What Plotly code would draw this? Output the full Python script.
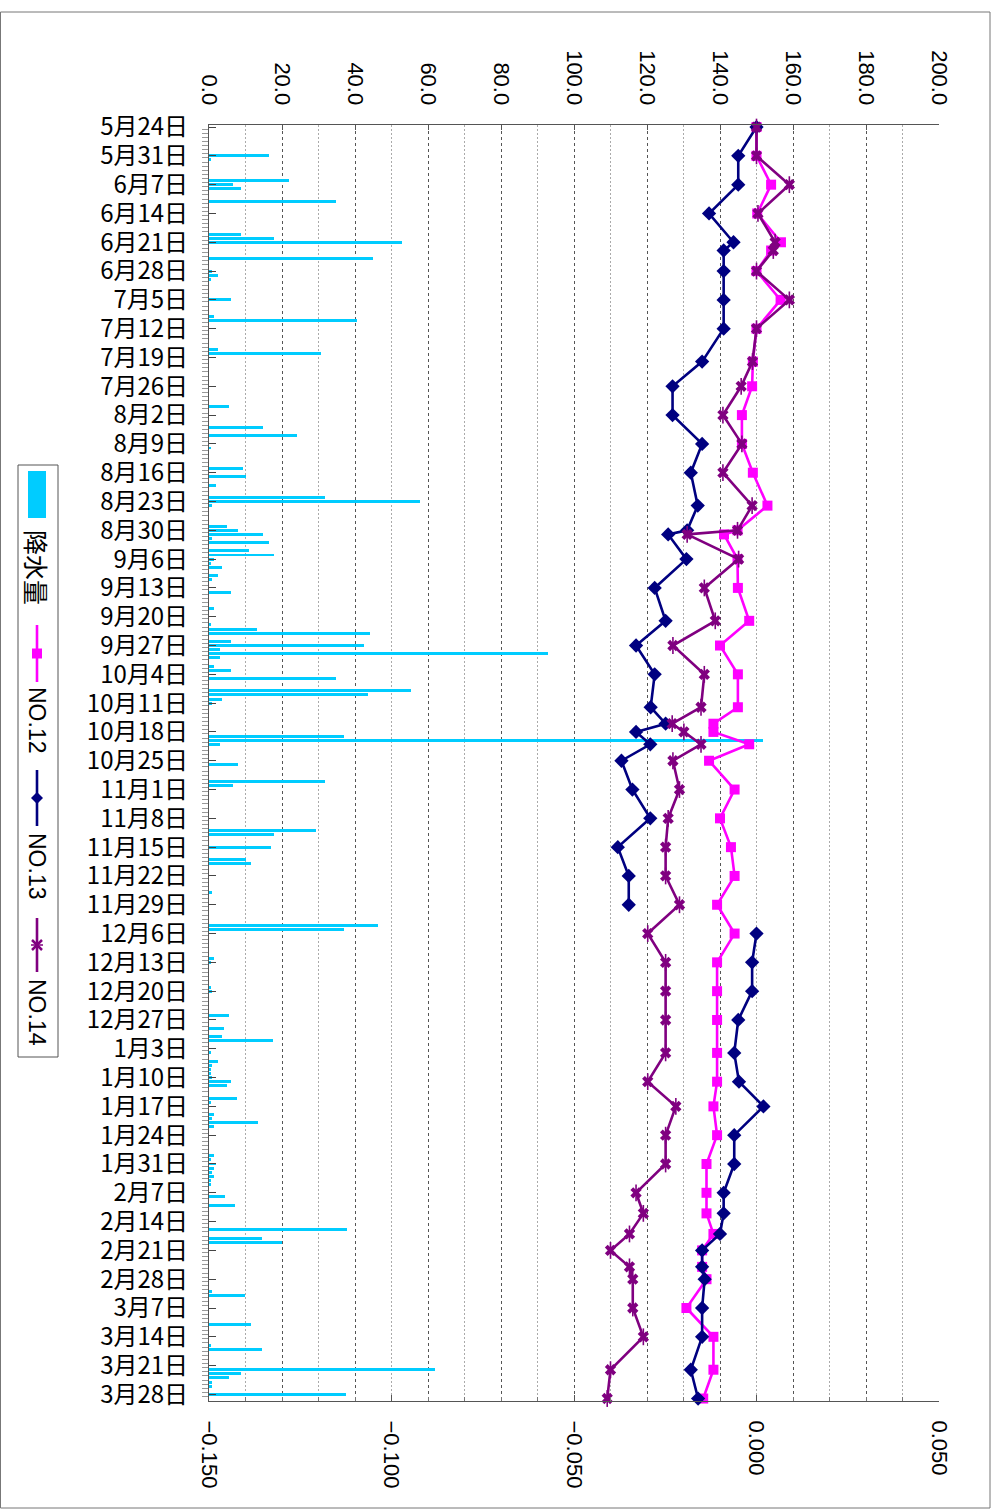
import plotly.graph_objects as go
from datetime import datetime, timedelta

# ---------------- data ----------------
START = datetime(2008, 5, 24)   # first category (5月24日)

# daily precipitation: day offset from START, amount (mm)
rain_day = [7, 8, 13, 14, 15, 18, 26, 27, 28, 32, 35, 36, 37, 42, 46, 47, 54, 55, 68, 73, 75,
            78, 83, 85, 87, 90, 91, 92, 97, 98, 99, 100, 101, 103, 104, 105, 106, 107, 109, 110,
            113, 117, 121, 122, 123, 125, 126, 127, 128, 129, 131, 132, 134, 137, 138, 139, 140,
            148, 149, 150, 155, 159, 160, 171, 172, 175, 178, 179, 186, 194, 195, 202, 203, 209,
            210, 216, 219, 221, 222, 225, 227, 228, 229, 230, 231, 232, 233, 236, 237, 240, 241,
            242, 243, 250, 251, 252, 253, 254, 255, 256, 257, 260, 262, 268, 270, 271, 283, 284,
            291, 296, 297, 302, 303, 304, 305, 306, 308]
rain_mm = [16.4, 0.5, 21.8, 6.5, 8.9, 34.9, 8.9, 17.8, 53.0, 44.8, 0.8, 2.4, 0.5, 5.9, 1.3, 40.5,
           2.4, 30.6, 5.4, 14.9, 24.0,
           0.5, 9.4, 10.0, 1.8, 31.9, 57.9, 0.7, 4.8, 7.9, 14.9, 0.7, 16.4, 10.9, 17.9, 1.3, 0.5,
           3.5, 2.4, 0.7,
           5.9, 1.3, 0.5, 13.1, 44.0, 5.9, 42.4, 2.9, 92.9, 2.9, 1.3, 5.9, 34.9, 55.4, 43.5, 3.5,
           0.7,
           37.0, 151.8, 2.9, 7.9, 31.9, 6.5, 29.4, 17.9, 17.0, 10.0, 11.4, 0.7, 46.4, 37.0, 1.3,
           0.5, 0.5,
           0.7, 5.4, 4.0, 3.5, 17.5, 0.5, 2.4, 0.7, 0.5, 0.5, 0.7, 5.9, 4.8, 7.6, 0.5, 1.3, 0.7,
           13.5, 1.3, 1.3, 0.5, 1.8, 1.3, 0.7, 1.3, 0.5, 0.5, 4.3, 7.0, 37.9, 14.4, 20.0, 0.7, 9.9,
           11.4, 0.5, 14.4, 61.9, 8.9, 5.4, 0.7, 0.7, 37.5]

# observation days (offset from START) and displacement values
no12_day = [0, 7, 14, 21, 28, 30, 35, 42, 49, 57, 63, 70, 77, 84, 92, 98, 99, 105, 112, 120,
            126, 133, 141, 145, 147, 150, 154, 161, 168, 175, 182, 189, 196, 203, 210, 217, 225,
            232, 238, 245, 252, 259, 264, 269, 273, 277, 280, 287, 294, 302, 309]
no12 = [0.000, 0.000, 0.004, 0.0002, 0.0067, 0.004, 0.000, 0.0066, 0.000, -0.001, -0.0012,
        -0.004, -0.004, -0.001, 0.003, -0.0052, -0.0089, -0.0052, -0.0051, -0.002,
        -0.010, -0.0051, -0.0051, -0.0118, -0.0118, -0.002, -0.013, -0.006, -0.010, -0.007,
        -0.006, -0.0108, -0.006, -0.0108, -0.0108, -0.0108, -0.0108,
        -0.0108, -0.0118, -0.0108, -0.0137, -0.0137, -0.0137, -0.0118, -0.0149, -0.0149,
        -0.0137, -0.0192, -0.0118, -0.0118, -0.0146]

no13_day = [0, 7, 14, 21, 28, 30, 35, 42, 49, 57, 63, 70, 77, 84, 92, 98, 99, 105, 112, 120,
            126, 133, 141, 145, 147, 150, 154, 161, 168, 175, 182, 189, 192, 196, 203, 210, 217,
            225, 232, 238, 245, 252, 259, 264, 269, 273, 277, 280, 287, 294, 302, 309]
no13 = [0.000, -0.005, -0.005, -0.013, -0.0063, -0.009, -0.009, -0.009, -0.009, -0.0149,
        -0.023, -0.023, -0.0149, -0.018, -0.0161, -0.019, -0.0242, -0.0192, -0.0279, -0.0249,
        -0.033, -0.0279, -0.029, -0.0249, -0.033, -0.0291, -0.037, -0.034, -0.0291, -0.038,
        -0.035, -0.035, None, 0.000, -0.0012, -0.0012, -0.005,
        -0.0061, -0.0048, 0.0019, -0.0061, -0.0061, -0.009, -0.009, -0.010, -0.0149, -0.0149,
        -0.0142, -0.0149, -0.0149, -0.018, -0.016]

no14_day = no12_day
no14 = [0.000, 0.000, 0.009, 0.0004, 0.0051, 0.0046, 0.000, 0.009, 0.000, -0.0011, -0.0042,
        -0.0092, -0.004, -0.0092, -0.0012, -0.0052, -0.019, -0.0049, -0.0143, -0.0113,
        -0.0229, -0.0143, -0.0152, -0.0231, -0.0199, -0.0152, -0.0229, -0.0211, -0.0242,
        -0.0249, -0.0249, -0.0211, -0.0298, -0.0249, -0.0249, -0.0249, -0.0249,
        -0.0298, -0.0221, -0.0249, -0.0249, -0.033, -0.031, -0.0348, -0.040, -0.0348,
        -0.0339, -0.0339, -0.031, -0.040, -0.0409]

n_weeks = 45  # weekly category labels 5月24日 ... 3月28日

# ---------------- layout geometry ----------------
W, H = 995, 1510
L, R, T, B = 209, 56, 125, 109
PW = W - L - R
PH = H - T - B


def px(x):
    return (x - L) / PW


def py(y):
    return (H - B - y) / PH


def day(n):
    return START + timedelta(days=n)


JP = "Noto Sans CJK JP"
AR = "Liberation Sans"

fig = go.Figure()

fig.add_trace(go.Bar(
    orientation="h",
    y=[day(d) for d in rain_day], x=rain_mm,
    width=0.72 * 86400000,
    marker=dict(color="#00CCFF", line=dict(width=0)),
    xaxis="x", yaxis="y", name="降水量",
))

series = [
    ("NO.12", no12_day, no12, "#FF00FF", dict(symbol="square", size=10)),
    ("NO.13", no13_day, no13, "#000080", dict(symbol="diamond", size=11)),
    ("NO.14", no14_day, no14, "#800080", dict(symbol="x", size=10)),
]
for name, dd, vals, col, mk in series:
    fig.add_trace(go.Scatter(
        x=vals, y=[day(d) for d in dd], name=name,
        mode="lines+markers", connectgaps=False, cliponaxis=False,
        line=dict(color=col, width=2.6),
        marker=dict(color=col, line=dict(width=0), **mk),
        xaxis="x2", yaxis="y",
    ))
    if name == "NO.14":
        # vertical stroke of the Excel-style star marker
        fig.add_trace(go.Scatter(
            x=vals, y=[day(d) for d in dd], name=name, showlegend=False,
            mode="markers", cliponaxis=False, hoverinfo="skip",
            marker=dict(symbol="line-ns-open", size=12, color=col,
                        line=dict(color=col, width=1.6)),
            xaxis="x2", yaxis="y",
        ))

tickvals = [day(7 * k) for k in range(n_weeks)]
ticktext = [f"{d.month}月{d.day}日" for d in tickvals]

shapes = []
annotations = []

# outer border
shapes.append(dict(type="rect", xref="paper", yref="paper",
                   x0=px(0.5), x1=px(990), y0=py(12), y1=py(1508),
                   line=dict(color="#777777", width=1)))

# rotated legend
LX = 37
shapes.append(dict(type="rect", xref="paper", yref="paper",
                   x0=px(18), x1=px(58), y0=py(465), y1=py(1057),
                   line=dict(color="#555555", width=1)))
shapes.append(dict(type="rect", xref="paper", yref="paper",
                   x0=px(28), x1=px(46), y0=py(471), y1=py(518),
                   fillcolor="#00CCFF", line=dict(width=0)))
annotations.append(dict(text="降水量", xref="paper", yref="paper", x=px(LX), y=py(567),
                        textangle=90, showarrow=False, font=dict(family=JP, size=25, color="black"),
                        xanchor="center", yanchor="middle"))

leg_items = [("NO.12", "#FF00FF", 625, 682, "square", 720),
             ("NO.13", "#000080", 770, 826, "diamond", 866),
             ("NO.14", "#800080", 918, 972, "x", 1012)]
for name, col, y0, y1, sym, ty in leg_items:
    shapes.append(dict(type="line", xref="paper", yref="paper",
                       x0=px(LX), x1=px(LX), y0=py(y0), y1=py(y1),
                       line=dict(color=col, width=2.6)))
    cy = (y0 + y1) / 2
    if sym == "square":
        shapes.append(dict(type="rect", xref="paper", yref="paper",
                           x0=px(LX - 5), x1=px(LX + 5), y0=py(cy - 5), y1=py(cy + 5),
                           fillcolor=col, line=dict(width=0)))
    elif sym == "diamond":
        path = (f"M {px(LX)},{py(cy - 6)} L {px(LX + 6)},{py(cy)} "
                f"L {px(LX)},{py(cy + 6)} L {px(LX - 6)},{py(cy)} Z")
        shapes.append(dict(type="path", xref="paper", yref="paper", path=path,
                           fillcolor=col, line=dict(width=0)))
    else:
        for a, b in ((-5, 5), (5, -5)):
            shapes.append(dict(type="line", xref="paper", yref="paper",
                               x0=px(LX - 5), x1=px(LX + 5), y0=py(cy + a), y1=py(cy + b),
                               line=dict(color=col, width=2.5)))
        shapes.append(dict(type="line", xref="paper", yref="paper",
                           x0=px(LX - 6), x1=px(LX + 6), y0=py(cy), y1=py(cy),
                           line=dict(color=col, width=1.5)))
    annotations.append(dict(text=name, xref="paper", yref="paper", x=px(LX), y=py(ty),
                            textangle=90, showarrow=False,
                            font=dict(family=AR, size=23, color="black"),
                            xanchor="center", yanchor="middle"))

fig.update_layout(
    width=W, height=H, autosize=False,
    margin=dict(l=L, r=R, t=T, b=B, pad=0),
    paper_bgcolor="white", plot_bgcolor="white",
    showlegend=False, bargap=0,
    shapes=shapes, annotations=annotations,
    yaxis=dict(
        type="date",
        range=[day(309.6), day(-0.5)],
        tickmode="array", tickvals=tickvals, ticktext=ticktext,
        tickfont=dict(family=JP, size=24, color="black"),
        ticks="inside", ticklen=7, tickcolor="#444444", tickwidth=1,
        ticklabelstandoff=15,
        minor=dict(ticks="outside", ticklen=6, tickcolor="#999999", tickwidth=1,
                   dtick=86400000, tick0=START - timedelta(hours=12), showgrid=False),
        showline=True, linecolor="#555555", linewidth=1.2,
        showgrid=False, zeroline=False,
    ),
    xaxis=dict(
        side="top", range=[0, 200], tickmode="linear", tick0=0, dtick=20,
        tickformat=".1f", tickangle=90,
        tickfont=dict(family=AR, size=22, color="black"),
        ticks="inside", ticklen=5, tickcolor="#555555",
        ticklabelstandoff=11,
        showline=True, linecolor="#555555", linewidth=1.2,
        showgrid=True, gridcolor="#555555", gridwidth=1, griddash="3px,3px",
        minor=dict(dtick=10, showgrid=True, gridcolor="#AAAAAA", gridwidth=1,
                   griddash="2px,2px", ticks=""),
        zeroline=False, anchor="y", fixedrange=True,
    ),
    xaxis2=dict(
        overlaying="x", side="bottom", anchor="y",
        range=[-0.15, 0.05], tickmode="linear", tick0=-0.15, dtick=0.05,
        tickformat=".3f", tickangle=90,
        tickfont=dict(family=AR, size=22, color="black"),
        ticks="inside", ticklen=6, tickcolor="#555555",
        ticklabelstandoff=14,
        minor=dict(dtick=0.01, ticks="inside", ticklen=4, tickcolor="#777777", showgrid=False),
        showline=True, linecolor="#555555", linewidth=1.2,
        showgrid=False, zeroline=False,
    ),
)

fig.write_html("out.html", config={"displayModeBar": False},
               post_script="document.body.style.margin='0';document.body.style.padding='0';")
